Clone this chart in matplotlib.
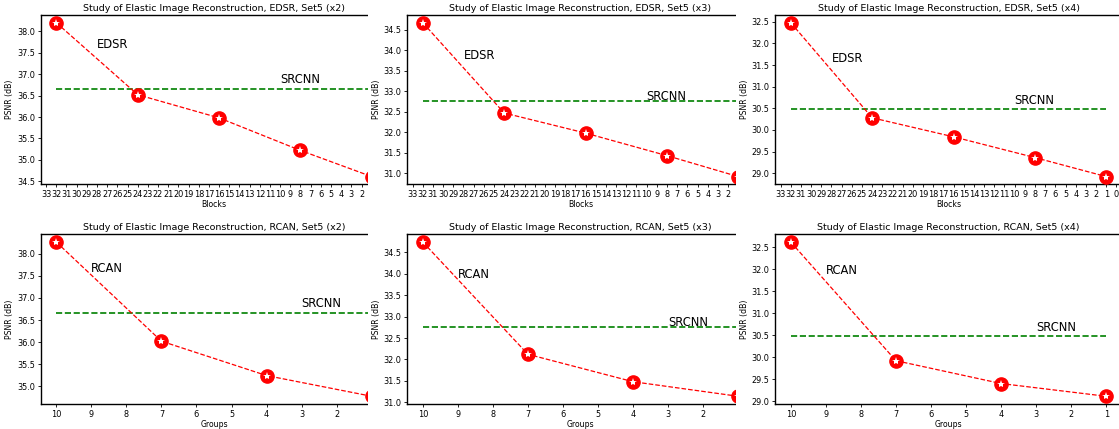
import matplotlib
matplotlib.use("Agg")
import matplotlib.pyplot as plt
import matplotlib.ticker as mticker
from matplotlib.patches import Rectangle

# ── Data ─────────────────────────────────────────────────────────────────────
EDSR_BLOCKS = [32, 24, 16, 8, 1]
EDSR_X2 = [38.20, 36.52, 35.98, 35.22, 34.61]
EDSR_X3 = [34.67, 32.47, 31.98, 31.43, 30.92]
EDSR_X4 = [32.48, 30.28, 29.84, 29.36, 28.92]

RCAN_GROUPS = [10, 7, 4, 1]
RCAN_X2 = [38.27, 36.02, 35.24, 34.77]
RCAN_X3 = [34.74, 32.12, 31.48, 31.14]
RCAN_X4 = [32.62, 29.92, 29.40, 29.11]

SRCNN = [36.66, 32.75, 30.48]
SCALES = ["x2", "x3", "x4"]

# label positions (data coords) for the model names
EDSR_LABEL_Y = [37.60, 33.78, 31.58]
RCAN_LABEL_Y = [37.60, 33.89, 31.89]
SRCNN_LABEL_Y = [36.79, 32.78, 30.59]

EDSR_TICKS = list(range(0, 34))
RCAN_TICKS = list(range(1, 11))

# ── Layout (pixels of a 1119x429 canvas) ─────────────────────────────────────
W, H = 1119, 429
LEFTS = [40.5, 407, 775]
AX_W = 347
ROWS = [(15, 184.3), (234.3, 404)]
CUTS = [367.5, 736]

fig = plt.figure(figsize=(W / 100, H / 100), dpi=100)

rows = [
    ("EDSR", EDSR_BLOCKS, [EDSR_X2, EDSR_X3, EDSR_X4], EDSR_LABEL_Y, EDSR_TICKS,
     (33.55, -0.55), "Blocks", 28),
    ("RCAN", RCAN_GROUPS, [RCAN_X2, RCAN_X3, RCAN_X4], RCAN_LABEL_Y, RCAN_TICKS,
     (10.45, 0.55), "Groups", 9),
]
srcnn_x = {"EDSR": 10, "RCAN": 3}

for r, (name, xs, series, label_y, ticks, xlim, xlabel, name_x) in enumerate(rows):
    top, bot = ROWS[r]
    for c in range(3):
        ax = fig.add_axes([LEFTS[c] / W, (H - bot) / H, AX_W / W, (bot - top) / H])
        ax.set_zorder(2 * c)
        ys = series[c]
        ax.plot(xs, ys, "r--", linewidth=0.9, marker="o", markersize=9.5,
                markerfacecolor="red", markeredgecolor="red", zorder=3)
        # white star inside each red dot
        ax.plot(xs, ys, linestyle="none", marker="*", markersize=6,
                color="white", markeredgewidth=0, zorder=4)
        ax.plot([xs[0], xs[-1]], [SRCNN[c], SRCNN[c]], "g--", linewidth=1.2, zorder=2)
        ax.text(name_x, label_y[c], name, fontsize=8.3)
        ax.text(srcnn_x[name], SRCNN_LABEL_Y[c], "SRCNN", fontsize=8.3)

        ax.set_xlim(*xlim)
        ax.set_xticks(ticks)
        ax.yaxis.set_major_locator(mticker.MultipleLocator(0.5))
        ax.tick_params(labelsize=5.9, length=2.5, width=0.6, pad=1.5)
        ax.set_xlabel(xlabel, fontsize=5.6, labelpad=1)
        ax.set_ylabel("PSNR (dB)", fontsize=5.6, labelpad=2)
        ax.set_title(f"Study of Elastic Image Reconstruction, {name}, Set5 ({SCALES[c]})",
                     fontsize=6.8, pad=3)
        for s in ax.spines.values():
            s.set_linewidth(1.0)

# each panel is cut off on its right side by the next one
for i, cut in enumerate(CUTS):
    fig.add_artist(Rectangle((cut / W, 0), (LEFTS[i + 1] - cut) / W, 1,
                             transform=fig.transFigure, facecolor="white",
                             edgecolor="none", zorder=2 * i + 1))

fig.savefig("out.png", dpi=100)
